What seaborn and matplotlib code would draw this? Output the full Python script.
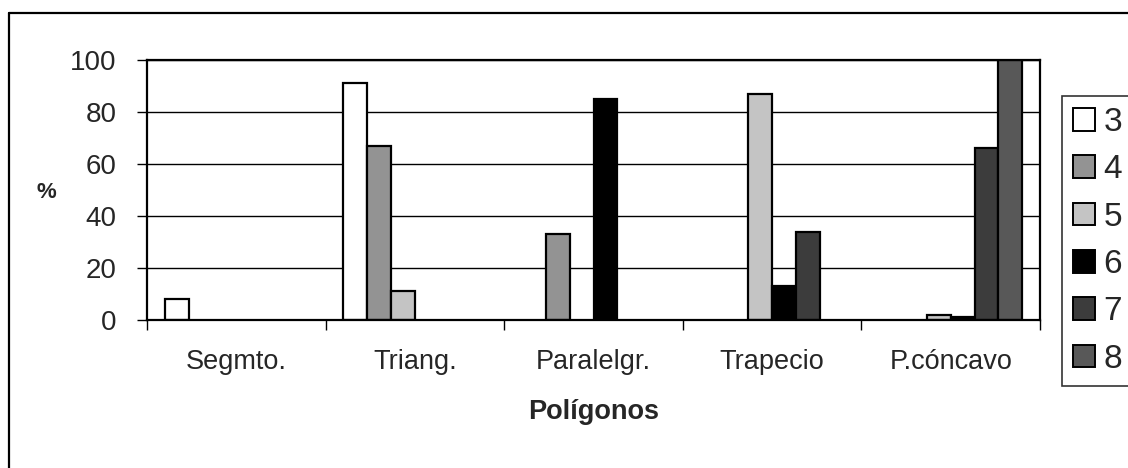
import matplotlib
matplotlib.use("Agg")
import matplotlib.pyplot as plt
from matplotlib.lines import Line2D
from matplotlib.patches import Patch
import seaborn as sns
import pandas as pd
import numpy as np

# Polygon categories and percentage of answers per number of sides
categories = ["Segmto.", "Triang.", "Paralelgr.", "Trapecio", "P.cóncavo"]
series_names = ["3", "4", "5", "6", "7", "8"]
s3 = [8, 91, 0, 0, 0]
s4 = [0, 67, 33, 0, 0]
s5 = [0, 11, 0, 87, 2]
s6 = [0, 0, 85, 13, 1]
s7 = [0, 0, 0, 34, 66]
s8 = [0, 0, 0, 0, 100]
y_ticks = [0, 20, 40, 60, 80, 100]

series_values = [s3, s4, s5, s6, s7, s8]
rows = []
for name, vals in zip(series_names, series_values):
    for cat, v in zip(categories, vals):
        rows.append({"Polígonos": cat, "lados": name, "pct": v})
df = pd.DataFrame(rows)

fills = {"3": "#ffffff", "4": "#939393", "5": "#c4c4c4",
         "6": "#000000", "7": "#3c3c3c", "8": "#585858"}

sns.set_style("white")
plt.rcParams["font.family"] = ["Liberation Sans", "DejaVu Sans"]

fig = plt.figure(figsize=(11.28, 4.68), dpi=100)
ax = fig.add_axes([147 / 1128, 1 - 320 / 468, (1040 - 147) / 1128, (320 - 60) / 468])

sns.barplot(data=df, x="Polígonos", y="pct", hue="lados", order=categories,
            hue_order=series_names, palette=fills, edgecolor="black",
            linewidth=1.6, width=0.8, saturation=1, ax=ax, legend=False)

# Hide bars of zero height so no flat outline is left on the baseline
for patch in ax.patches:
    if patch.get_height() == 0:
        patch.set_visible(False)

ax.set_xlim(-0.5, len(categories) - 0.5)
ax.set_ylim(0, 100)
ax.set_yticks(y_ticks)
ax.set_yticklabels([str(t) for t in y_ticks], fontsize=20)
ax.yaxis.grid(True, color="black", linewidth=1.0)
ax.set_axisbelow(True)

ax.set_xticks(range(len(categories)))
ax.set_xticklabels(categories, fontsize=19.5)
ax.set_xticks(np.arange(-0.5, len(categories), 1.0), minor=True)
ax.tick_params(axis="x", which="major", length=0, pad=21)
ax.tick_params(axis="x", which="minor", length=7, width=1, color="black", direction="out", bottom=True)
ax.tick_params(axis="y", length=7, width=1, color="black", direction="out", left=True, pad=15)

for side in ["left", "bottom", "top", "right"]:
    ax.spines[side].set_visible(True)
    ax.spines[side].set_color("black")
    ax.spines[side].set_linewidth(1.6)

ax.set_xlabel("Polígonos", fontsize=19.5, fontweight="bold", labelpad=17)
ax.set_ylabel("")
fig.text(46 / 1128, 1 - 193 / 468, "%", fontsize=16, fontweight="bold",
         ha="center", va="center")

handles = [Patch(facecolor=fills[n], edgecolor="black", linewidth=1.4) for n in series_names]
leg = fig.legend(handles, series_names, loc="upper left",
                 bbox_to_anchor=(1062 / 1128, 1 - 96 / 468),
                 bbox_transform=fig.transFigure, fontsize=24, borderaxespad=0,
                 handlelength=0.66, handleheight=0.66, handletextpad=0.25,
                 labelspacing=0.49, borderpad=0.33, frameon=True, fancybox=False)
leg.get_frame().set_edgecolor("black")
leg.get_frame().set_linewidth(1.2)

# Outer chart-area border (top and left edges)
fig.add_artist(Line2D([9 / 1128, 1.0], [1 - 13 / 468, 1 - 13 / 468],
                      transform=fig.transFigure, color="black", linewidth=1.6))
fig.add_artist(Line2D([9 / 1128, 9 / 1128], [0.0, 1 - 13 / 468],
                      transform=fig.transFigure, color="black", linewidth=1.6))

fig.savefig("out.png", dpi=100)
